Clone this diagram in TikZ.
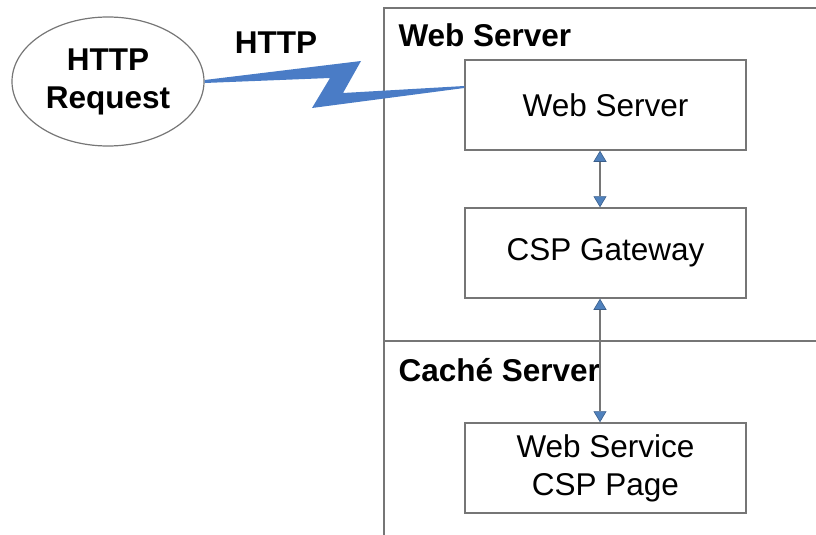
\documentclass[tikz,border=0pt]{standalone}
\usepackage{fontspec}
\setmainfont{Liberation Sans}
\usetikzlibrary{shapes.geometric,arrows.meta}
\definecolor{boltblue}{HTML}{4A7CC6}
\definecolor{tipblue}{HTML}{4F81BD}
\definecolor{tipedge}{HTML}{385D8A}
\definecolor{framegray}{HTML}{767676}
\tikzset{
  bigfont/.style={font=\fontsize{31.5}{38}\selectfont},
  box/.style={draw=framegray,line width=1.5pt,fill=white,minimum width=281pt,
    minimum height=90pt,inner sep=0pt,align=center,bigfont},
  label/.style={anchor=base west,font=\fontsize{31.5}{38}\selectfont\bfseries},
  biarrow/.style={draw=framegray,line width=1.3pt,
    {Triangle[width=13pt,length=11pt,fill=tipblue,color=tipedge,line width=0.6pt]}-{Triangle[width=13pt,length=11pt,fill=tipblue,color=tipedge,line width=0.6pt]}},
}
\begin{document}
\begin{tikzpicture}[x=1pt,y=-1pt]
    \useasboundingbox (0,0) rectangle (816,535);
    % outer frame and divider
    \draw[framegray,line width=1.5pt] (384,535) -- (384,8) -- (816,8);
    \draw[framegray,line width=1.5pt] (384,341) -- (816,341);
    % frame labels
    \node[label] (weblbl) at (395,47) {Web Server};
    \node[label] (cachelbl) at (395,381) {Caché Server};
    % boxes
    \node[box] (websrv) at (605.5,105) {Web Server};
    \node[box] (gateway) at (605.5,253) {CSP Gateway};
    \node[box] (csppage) at (605.5,468) {Web Service\\CSP Page};
    % request
    \node[draw=framegray,line width=1.2pt,ellipse,minimum width=192pt,minimum height=129pt,
      inner sep=0pt,align=center,font=\fontsize{31.5}{38}\selectfont\bfseries]
      (request) at (108,81.5) {HTTP\\Request};
    \node[anchor=base,font=\fontsize{31.5}{38}\selectfont\bfseries] (httplbl) at (276,53) {HTTP};
    % lightning link
    \fill[boltblue] ([yshift=1.5]request.east) -- (361,61) -- (343,93)
      -- ([yshift=19]websrv.west) -- ([yshift=17]websrv.west) -- (312,108)
      -- (330,78) -- ([yshift=-1.5]request.east) -- cycle;
    % arrows
    \draw[biarrow] ([xshift=-5.5]websrv.south) -- ([xshift=-5.5]gateway.north);
    \draw[biarrow] ([xshift=-5.5]gateway.south) -- ([xshift=-5.5]csppage.north);
\end{tikzpicture}
\end{document}
